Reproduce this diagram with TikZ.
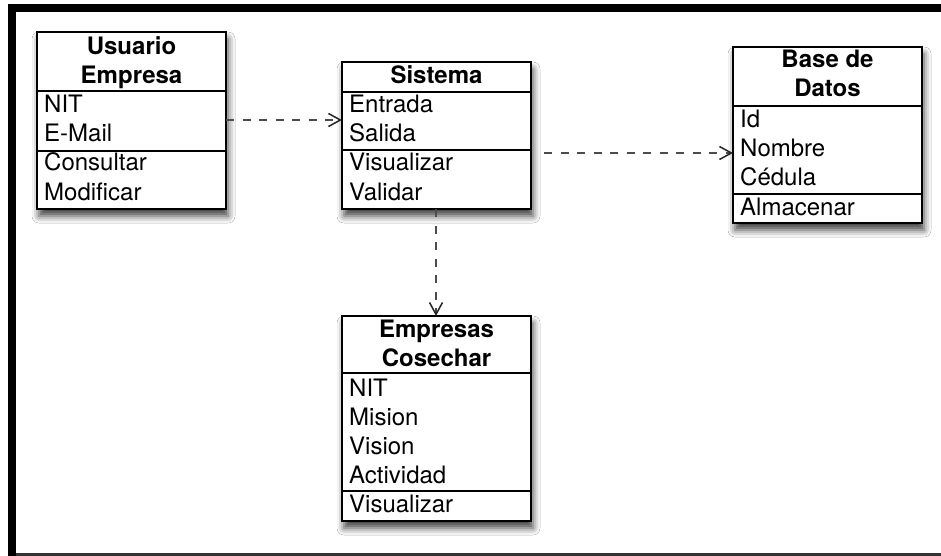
\documentclass[tikz,border=0pt]{standalone}
\usepackage{fontspec}
\setmainfont{TeX Gyre Heros}
\usetikzlibrary{arrows.meta,shadows.blur}

\tikzset{
  classbox/.style={draw=black, line width=2pt, fill=white, inner sep=0pt, outer sep=0pt,
    blur shadow={shadow xshift=2pt, shadow yshift=-7pt, shadow blur radius=7pt, shadow opacity=75}},
  sepline/.style={draw=black, line width=1.5pt},
  rowtext/.style={anchor=base west, inner sep=0pt, font=\fontsize{24}{29}\selectfont},
  headtext/.style={anchor=base, inner sep=0pt, font=\bfseries\fontsize{24}{29}\selectfont},
  dep/.style={draw=black!70, line width=2pt, dash pattern=on 8pt off 8.5pt,
    -{Straight Barb[length=12pt, width=13pt, line width=1.5pt, color=black!85]}},
  framebar/.style={fill=black, draw=none}
}

% rows of a compartment: name prefix, left x, first baseline, entries
\newcommand\rowsat[4]{%
  \foreach \t [count=\i from 0] in {#4}{\node[rowtext] (#1-\i) at (#2,#3+29*\i) {\t};}}
% centred header lines: name prefix, centre x, first baseline, entries
\newcommand\headat[4]{%
  \foreach \t [count=\i from 0] in {#4}{\node[headtext] (#1-\i) at (#2,#3+29*\i) {\t};}}

\begin{document}
\begin{tikzpicture}[x=1pt, y=-1pt]
\useasboundingbox (0,0) rectangle (941,556);
\fill[white] (0,0) rectangle (941,556);

% outer frame
\fill[framebar] (8,4) rectangle (941,12);
\fill[framebar] (8,4) rectangle (16,556);
\fill[black!80] (16,553) rectangle (941,556);

% Usuario Empresa
\node[classbox, minimum width=189pt, minimum height=177pt] (usuario) at (131.5,120.5) {};
\draw[sepline] (usuario.west |- 0,91) -- (usuario.east |- 0,91);
\draw[sepline] (usuario.west |- 0,151) -- (usuario.east |- 0,151);
\headat{uh}{131.5}{55}{Usuario,Empresa}
\rowsat{ua}{44}{113}{NIT,E-Mail}
\rowsat{um}{44}{171}{Consultar,Modificar}

% Sistema
\node[classbox, minimum width=189pt, minimum height=147pt] (sistema) at (436.5,135.5) {};
\draw[sepline] (sistema.west |- 0,92) -- (sistema.east |- 0,92);
\draw[sepline] (sistema.west |- 0,150) -- (sistema.east |- 0,150);
\headat{sh}{436.5}{84}{Sistema}
\rowsat{sa}{349}{113}{Entrada,Salida}
\rowsat{sm}{349}{171}{Visualizar,Validar}

% Base de Datos
\node[classbox, minimum width=189pt, minimum height=176pt] (base) at (827.5,135) {};
\draw[sepline] (base.west |- 0,106) -- (base.east |- 0,106);
\draw[sepline] (base.west |- 0,194) -- (base.east |- 0,194);
\headat{bh}{827.5}{67.5}{Base de,Datos}
\rowsat{ba}{740}{127.5}{Id,Nombre,Cédula}
\rowsat{bm}{740}{215}{Almacenar}

% Empresas Cosechar
\node[classbox, minimum width=189pt, minimum height=205pt] (empresas) at (436.5,418.5) {};
\draw[sepline] (empresas.west |- 0,373) -- (empresas.east |- 0,373);
\draw[sepline] (empresas.west |- 0,491) -- (empresas.east |- 0,491);
\headat{eh}{436.5}{337}{Empresas,Cosechar}
\rowsat{ea}{349}{396}{NIT,Mision,Vision,Actividad}
\rowsat{em}{349}{512}{Visualizar}

% dependencies
\draw[dep] (usuario.east |- 0,120) -- (sistema.west |- 0,120);
\draw[dep, shorten <=13pt] (sistema.east |- 0,153) -- (base.west |- 0,153);
\draw[dep] (sistema.south -| 436,0) -- (empresas.north -| 436,0);
\end{tikzpicture}
\end{document}
